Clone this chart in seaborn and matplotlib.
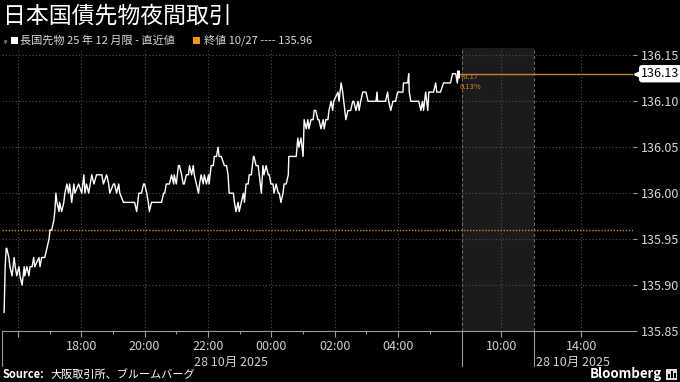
import matplotlib
matplotlib.use("Agg")
import matplotlib.pyplot as plt
import seaborn as sns
import pandas as pd
from matplotlib.patches import Rectangle

# ---------------- data ----------------
# minutes after 15:30 (27 Oct, night session)
minutes_after_1530 = [
    4, 6, 8, 9, 13, 15, 19, 23, 25, 28, 32, 34, 38, 42, 43, 47, 51, 53, 57, 60,
    62, 70, 72, 75, 81, 85, 89, 91, 94, 98, 100, 102, 104, 108, 109, 113, 117, 119, 123, 126,
    128, 132, 136, 138, 145, 151, 155, 157, 160, 164, 170, 174, 179, 189, 192, 198, 202, 204, 211, 213,
    217, 221, 223, 230, 232, 240, 251, 255, 259, 264, 268, 270, 274, 277, 279, 283, 302, 306, 308, 311,
    317, 321, 325, 326, 330, 334, 336, 340, 343, 345, 349, 353, 355, 359, 362, 364, 368, 372, 374, 377,
    381, 383, 387, 391, 392, 396, 400, 402, 406, 409, 411, 415, 421, 425, 428, 430, 434, 438, 440, 443,
    447, 449, 453, 457, 459, 462, 466, 468, 472, 476, 477, 481, 485, 487, 491, 494, 496, 500, 504, 506,
    509, 513, 515, 519, 523, 525, 528, 532, 534, 538, 542, 543, 547, 551, 553, 557, 560, 562, 566, 570,
    572, 576, 579, 581, 585, 589, 591, 594, 598, 600, 604, 608, 610, 613, 617, 619, 623, 626, 628, 636,
    638, 642, 645, 647, 651, 655, 660, 664, 666, 670, 674, 676, 679, 683, 689, 693, 698, 708, 710, 711,
    726, 730, 732, 736, 740, 745, 749, 759, 760, 768, 770, 771, 774, 777, 789, 793, 796, 798, 802, 806,
    808, 811, 817, 821, 823, 830, 836, 843, 849, 853, 859, 862, 864,
]
price = [
    135.87, 135.92, 135.94, 135.94, 135.93, 135.92, 135.91, 135.93, 135.92, 135.91, 135.92, 135.91, 135.90, 135.92, 135.91, 135.92, 135.91, 135.92, 135.92, 135.93,
    135.92, 135.93, 135.92, 135.93, 135.93, 135.94, 135.95, 135.96, 135.96, 135.97, 135.98, 136.00, 135.99, 135.98, 135.99, 135.98, 135.99, 136.00, 136.01, 136.00,
    136.01, 135.99, 136.01, 136.00, 136.01, 136.00, 136.02, 136.00, 136.01, 136.00, 136.02, 136.01, 136.02, 136.02, 136.01, 136.02, 136.01, 136.00, 136.01, 136.01,
    136.00, 136.01, 136.00, 135.99, 135.99, 135.99, 135.99, 135.98, 136.00, 136.00, 136.01, 136.01, 136.00, 135.99, 135.98, 135.99, 135.99, 136.00, 136.00, 136.01,
    136.01, 136.02, 136.01, 136.02, 136.01, 136.03, 136.03, 136.02, 136.01, 136.01, 136.02, 136.02, 136.03, 136.02, 136.03, 136.02, 136.01, 136.00, 136.01, 136.02,
    136.01, 136.02, 136.01, 136.02, 136.01, 136.03, 136.03, 136.04, 136.04, 136.05, 136.04, 136.04, 136.03, 136.03, 136.02, 136.00, 136.00, 136.00, 135.99, 135.98,
    135.99, 135.98, 135.99, 136.00, 135.99, 136.01, 136.01, 136.02, 136.02, 136.04, 136.04, 136.03, 136.03, 136.02, 136.00, 136.03, 136.02, 136.03, 136.02, 136.02,
    136.01, 136.01, 136.00, 136.01, 136.00, 136.00, 135.99, 136.00, 136.01, 136.01, 136.02, 136.04, 136.04, 136.04, 136.04, 136.04, 136.06, 136.05, 136.06, 136.04,
    136.08, 136.07, 136.08, 136.07, 136.08, 136.08, 136.09, 136.09, 136.08, 136.08, 136.07, 136.08, 136.07, 136.08, 136.08, 136.09, 136.10, 136.09, 136.10, 136.11,
    136.10, 136.12, 136.11, 136.10, 136.08, 136.09, 136.09, 136.10, 136.10, 136.09, 136.10, 136.09, 136.10, 136.11, 136.11, 136.10, 136.10, 136.10, 136.11, 136.10,
    136.10, 136.11, 136.10, 136.09, 136.10, 136.10, 136.11, 136.11, 136.12, 136.12, 136.13, 136.11, 136.10, 136.10, 136.10, 136.09, 136.10, 136.09, 136.11, 136.09,
    136.11, 136.11, 136.11, 136.12, 136.11, 136.11, 136.12, 136.12, 136.12, 136.13, 136.13, 136.12, 136.13,
]
prev_close = 135.96
last_price = 136.13
change_text = "+0.17"
change_pct_text = "0.13%"

y_ticks = [135.85, 135.90, 135.95, 136.00, 136.05, 136.10, 136.15]
night_tick_times = ["16:00", "18:00", "20:00", "22:00", "00:00", "02:00", "04:00"]
night_tick_labels = ["", "18:00", "20:00", "22:00", "00:00", "02:00", "04:00"]
night_minor_times = ["16:00", "17:00", "18:00", "19:00", "20:00", "21:00", "22:00", "23:00",
                     "00:00", "01:00", "02:00", "03:00", "04:00", "05:00"]
day_tick_times = ["10:00", "14:00"]
day_tick_labels = ["10:00", "14:00"]
date_label = "28 10月 2025"
title = "日本国債先物夜間取引"
legend_series = "長国先物 25 年 12 月限 - 直近値"
legend_close = "終値 10/27 ---- 135.96"
source_label = "Source:"
source_text = "大阪取引所、ブルームバーグ"

# ---------------- axis mapping (broken time axis) ----------------
NIGHT_END = 870          # 06:00 in minutes after 15:30
DAY_SCALE = 0.629        # day session is drawn compressed


def hm(t):
    h, m = t.split(":")
    return int(h) * 60 + int(m)


def night_pos(t):
    return (hm(t) - (15 * 60 + 30)) % (24 * 60)


def day_pos(t):
    return NIGHT_END + (hm(t) - 8 * 60) * DAY_SCALE


shade_end = day_pos("11:38")
x_right = day_pos("16:36")

# ---------------- style ----------------
sns.set_theme(style="dark", rc={"axes.facecolor": "black", "figure.facecolor": "black"})
plt.rcParams['font.family'] = ['Noto Sans CJK JP', 'DejaVu Sans']

fig = plt.figure(figsize=(6.8, 3.82), dpi=100, facecolor="black")
ax = fig.add_axes([2 / 680, 1 - 331 / 382, 631 / 680, 283 / 382])
ax.set_facecolor("black")

df = pd.DataFrame({"pos": minutes_after_1530, "price": price})

ax.set_xlim(0, x_right)
ax.set_ylim(135.85, 136.158)

# shaded (closed/future) region
ax.axvspan(NIGHT_END, shade_end, color="#1b1b1b", zorder=0, lw=0)
for xv in (NIGHT_END, shade_end):
    ax.axvline(xv, color="#6a6a6a", lw=0.8, ls=(0, (3, 2)), zorder=1)

# grid
grid_kw = dict(color="#505050", lw=0.8, ls=(0, (1, 2)), zorder=1)
for yv in y_ticks[1:]:
    ax.axhline(yv, **grid_kw)
for t in night_tick_times:
    ax.axvline(night_pos(t), **grid_kw)
for t in day_tick_times:
    ax.axvline(day_pos(t), **grid_kw)

# previous close
ax.axhline(prev_close, color="#d08a2c", lw=1.0, ls=(0, (1, 1.2)), zorder=2)

# series
sns.lineplot(data=df, x="pos", y="price", ax=ax, color="white", lw=1.0,
             estimator=None, sort=False, zorder=4)
last_pos = minutes_after_1530[-1]
ax.plot([last_pos, x_right], [last_price, last_price], color="#c5852b", lw=1.0, zorder=3)
ax.plot([last_pos], [last_price], marker="|", ms=6, mew=2.2, color="white", zorder=5)
ax.text(last_pos + 2, last_price - 0.004, change_text, color="#d08a2c", fontsize=5.5,
        va="center", ha="left", zorder=5)
ax.text(last_pos + 2, last_price - 0.014, change_pct_text, color="#d08a2c", fontsize=5.5,
        va="center", ha="left", zorder=5)

# ticks
ax.set_xlabel("")
ax.set_ylabel("")
xt = [night_pos(t) for t in night_tick_times] + [day_pos(t) for t in day_tick_times]
ax.set_xticks(xt, night_tick_labels + day_tick_labels)
ax.set_xticks([night_pos(t) for t in night_minor_times], minor=True)
ax.tick_params(axis="x", which="major", length=4, width=0.8, color="#9a9a9a",
               labelcolor="#d0d0d0", labelsize=9, pad=2.5, bottom=True)
ax.tick_params(axis="x", which="minor", length=2.5, width=0.8, color="#9a9a9a", bottom=True)

ax.yaxis.tick_right()
ax.set_yticks(y_ticks, [f"{v:.2f}" for v in y_ticks])
ax.tick_params(axis="y", which="major", length=3, width=0.8, color="#9a9a9a",
               labelcolor="#d8d8d8", labelsize=9, pad=3, right=True, left=False)

for s in ("top", "left", "right"):
    ax.spines[s].set_visible(False)
ax.spines["bottom"].set_color("#9a9a9a")
ax.spines["bottom"].set_linewidth(0.8)

# last value label on the right axis
ytr = ax.get_yaxis_transform()
ax.plot([1.006], [last_price], transform=ytr, marker="<", ms=5, color="white",
        clip_on=False, zorder=6)
ax.text(1.013, last_price, f"{last_price:.2f}", transform=ytr, ha="left", va="center",
        fontsize=9, color="black", zorder=7, clip_on=False,
        bbox=dict(boxstyle="round,pad=0.12,rounding_size=0.2", fc="white", ec="white"))

# long separators below the axis
xtr = ax.get_xaxis_transform()
for xv in (0.5, NIGHT_END, shade_end):
    ax.plot([xv, xv], [0, -0.125], transform=xtr, color="#9a9a9a", lw=0.8, clip_on=False)

# date labels
ax.text(night_pos("22:44"), -0.11, date_label, transform=xtr, ha="center", va="center",
        fontsize=9, color="#d0d0d0")
ax.text(shade_end + 3, -0.11, date_label, transform=xtr, ha="left", va="center",
        fontsize=9, color="#d0d0d0")

# ---------------- header / footer ----------------
fig.text(3 / 680, 1 - 16 / 382, title, color="white", fontsize=16.5, ha="left", va="center")
fig.patches.append(Rectangle((11 / 680, 1 - 44 / 382), 7 / 680, 7 / 382, transform=fig.transFigure,
                             fc="white", ec="none"))
fig.text(5 / 680, 1 - 41 / 382, "ᵩ", color="#bbbbbb", fontsize=6, ha="center", va="center",
         family=["DejaVu Sans"])
fig.text(20 / 680, 1 - 40 / 382, legend_series, color="#d8d8d8", fontsize=8, ha="left", va="center")
fig.patches.append(Rectangle((193 / 680, 1 - 44 / 382), 7 / 680, 7 / 382, transform=fig.transFigure,
                             fc="#f0961e", ec="none"))
fig.text(204 / 680, 1 - 40 / 382, legend_close, color="#d8d8d8", fontsize=8, ha="left", va="center")

fig.text(3 / 680, 1 - 375 / 382, source_label, color="white", fontsize=8, fontweight="bold",
         ha="left", va="center")
fig.text(50 / 680, 1 - 375 / 382, source_text, color="white", fontsize=8, ha="left", va="center")
fig.text(662 / 680, 1 - 374 / 382, "Bloomberg", color="white", fontsize=9.5, fontweight="bold",
         ha="right", va="center")
fig.patches.append(Rectangle((666 / 680, 1 - 380 / 382), 11 / 680, 11 / 382, transform=fig.transFigure,
                             fc="#dddddd", ec="none"))
for i, hgt in enumerate([4, 7, 5]):
    fig.patches.append(Rectangle(((668 + i * 3) / 680, 1 - 378 / 382), 1.5 / 680, hgt / 382,
                                 transform=fig.transFigure, fc="black", ec="none"))

fig.savefig("out.png", dpi=100, facecolor="black")
